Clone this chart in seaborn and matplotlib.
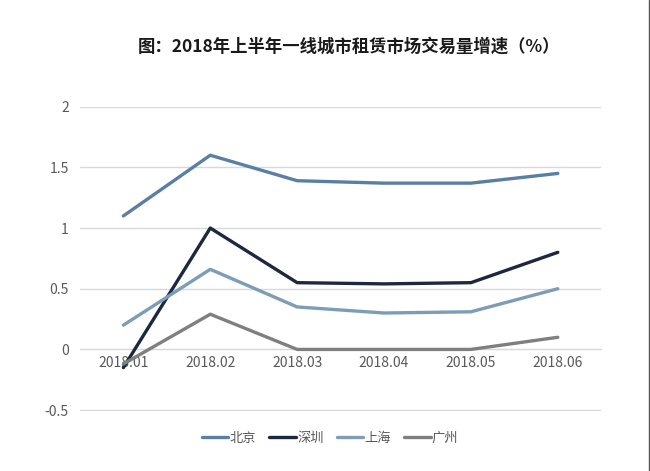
import pandas as pd
import matplotlib
matplotlib.use("Agg")
import matplotlib.pyplot as plt
import matplotlib.ticker as mticker
from matplotlib.lines import Line2D
import seaborn as sns

# values
months = ["2018.01", "2018.02", "2018.03", "2018.04", "2018.05", "2018.06"]
beijing = [1.10, 1.60, 1.39, 1.37, 1.37, 1.45]
shenzhen = [-0.15, 1.00, 0.55, 0.54, 0.55, 0.80]
shanghai = [0.20, 0.66, 0.35, 0.30, 0.31, 0.50]
guangzhou = [-0.12, 0.29, 0.00, 0.00, 0.00, 0.10]
cities = ["北京", "深圳", "上海", "广州"]
y_ticks = [-0.5, 0, 0.5, 1, 1.5, 2]
title = "图：2018年上半年一线城市租赁市场交易量增速（%）"

colors = ["#5a7fa5", "#1c2740", "#7d9cb6", "#7f7f7f"]

sns.set_style("white")
plt.rcParams["font.family"] = ["Noto Sans CJK SC", "DejaVu Sans"]

rows = []
for city, vals in zip(cities, [beijing, shenzhen, shanghai, guangzhou]):
    for i, v in enumerate(vals):
        rows.append({"month": i, "city": city, "value": v})
df = pd.DataFrame(rows)

fig = plt.figure(figsize=(6.5, 4.71), dpi=100)
ax = fig.add_axes([0.123, 0.128, 0.802, 0.6455])

sns.lineplot(data=df, x="month", y="value", hue="city", hue_order=cities,
             palette=colors, linewidth=2.4, ax=ax, legend=True)

ax.set_xlim(-0.5, len(months) - 0.5)
ax.set_ylim(-0.505, 2)
ax.yaxis.set_major_locator(mticker.FixedLocator(y_ticks))
ax.yaxis.set_major_formatter(mticker.FormatStrFormatter("%g"))
ax.xaxis.set_major_locator(mticker.FixedLocator(list(range(len(months)))))
ax.set_xticklabels(months)
ax.grid(axis="y", color="#d9d9d9", linewidth=1)
ax.set_axisbelow(True)

for side in ["top", "right", "left"]:
    ax.spines[side].set_visible(False)
ax.spines["bottom"].set_position(("data", 0))
ax.spines["bottom"].set_color("#d9d9d9")
ax.spines["bottom"].set_zorder(0)
ax.tick_params(axis="both", length=0, labelsize=10, labelcolor="#595959")
ax.tick_params(axis="y", pad=8)
ax.tick_params(axis="x", pad=5)
ax.set_xlabel("")
ax.set_ylabel("")

handles, labels = ax.get_legend_handles_labels()
ax.legend(handles, labels, loc="center", bbox_to_anchor=(0.48, -0.09),
          ncol=4, frameon=False, fontsize=9.5, labelcolor="#595959",
          handlelength=2.0, handletextpad=0.1, columnspacing=1.0)

fig.text(0.537, 0.90, title, ha="center", va="center", fontsize=12.5,
         fontweight="bold", color="#1a1a1a")

# thin frame line on the right edge of the picture
fig.add_artist(Line2D([0.998, 0.998], [0, 1], transform=fig.transFigure,
                      color="#555555", linewidth=1))

fig.savefig("out.png", dpi=100)
